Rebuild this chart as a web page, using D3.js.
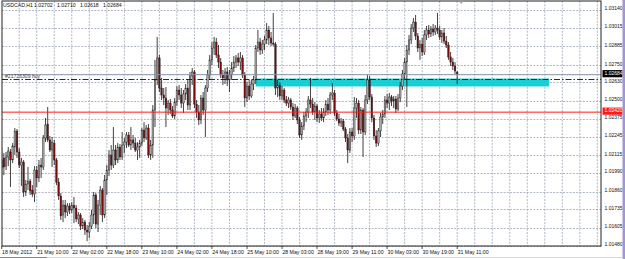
<!DOCTYPE html>
<html>
<head>
<meta charset="utf-8">
<script src="https://cdn.jsdelivr.net/npm/d3@7/dist/d3.min.js"></script>
<style>
html,body{margin:0;padding:0;background:#fff;}
svg{display:block;font-family:"Liberation Sans",Arial,sans-serif;}
</style>
</head>
<body>
<svg id="chart" width="625" height="259"></svg>
<script>
// USDCAD H1, 18 May 2012 18:00 .. 31 May 11:00
var symbol = "USDCAD,H1";
var lastQuote = [1.02702, 1.02710, 1.02618, 1.02684];

var opens = [1.02026,1.02097,1.02040,1.02104,1.02139,1.02083,1.02174,1.02287,1.02139,1.02047,
1.02068,1.01857,1.01913,1.01934,1.01871,1.01843,1.02012,1.01956,1.02047,1.02033,
1.02238,1.02336,1.02224,1.02153,1.02202,1.02083,1.01927,1.01829,1.01695,1.01765,
1.01716,1.01758,1.01730,1.01765,1.01744,1.01667,1.01695,1.01617,1.01645,1.01589,
1.01575,1.01617,1.01695,1.01836,1.01631,1.01765,1.01871,1.01695,1.01942,1.02012,
1.02118,1.02047,1.02153,1.02083,1.02174,1.02104,1.02188,1.02209,1.02259,1.02188,
1.02224,1.02202,1.02153,1.02174,1.02202,1.02294,1.02238,1.02308,1.02118,1.02188,
1.02435,1.02647,1.02802,1.02590,1.02541,1.02520,1.02449,1.02484,1.02435,1.02393,
1.02491,1.02576,1.02541,1.02484,1.02548,1.02590,1.02470,1.02675,1.02703,1.02477,
1.02421,1.02365,1.02520,1.02435,1.02590,1.02682,1.02788,1.02872,1.02914,1.02823,
1.02773,1.02682,1.02661,1.02703,1.02647,1.02682,1.02731,1.02773,1.02802,1.02773,
1.02802,1.02682,1.02520,1.02604,1.02534,1.02618,1.02647,1.02872,1.02914,1.02858,
1.02900,1.02929,1.02999,1.02943,1.02907,1.02900,1.02590,1.02611,1.02534,1.02576,
1.02506,1.02484,1.02506,1.02456,1.02393,1.02449,1.02365,1.02259,1.02322,1.02393,
1.02421,1.02506,1.02477,1.02421,1.02463,1.02379,1.02407,1.02379,1.02421,1.02477,
1.02435,1.02541,1.02555,1.02414,1.02372,1.02343,1.02357,1.02301,1.02238,1.02153,
1.02280,1.02252,1.02449,1.02484,1.02294,1.02435,1.02280,1.02506,1.02647,1.02527,
1.02379,1.02252,1.02202,1.02287,1.02386,1.02407,1.02506,1.02484,1.02527,1.02498,
1.02513,1.02442,1.02520,1.02604,1.02689,1.02773,1.02858,1.02929,1.03013,1.03055,
1.02957,1.02872,1.02900,1.02844,1.02964,1.02999,1.02971,1.03006,1.02985,1.03013,
1.02999,1.02950,1.02978,1.02921,1.02893,1.02809,1.02773,1.02745,1.02702];

var highs = [1.02167,1.02132,1.02139,1.02174,1.02160,1.02202,1.02308,1.02301,1.02167,1.02097,
1.02083,1.01942,1.02033,1.01949,1.01906,1.02040,1.02040,1.02083,1.02097,1.02259,
1.02379,1.02456,1.02252,1.02245,1.02224,1.02097,1.01956,1.01850,1.01801,1.01801,
1.01779,1.01779,1.01786,1.01822,1.01765,1.01716,1.01709,1.01674,1.01660,1.01624,
1.01645,1.01730,1.01857,1.01850,1.01801,1.01899,1.01885,1.01977,1.02047,1.02153,
1.02188,1.02315,1.02188,1.02202,1.02195,1.02280,1.02238,1.02280,1.02280,1.02315,
1.02259,1.02238,1.02209,1.02224,1.02308,1.02350,1.02329,1.02336,1.02224,1.02470,
1.02788,1.02950,1.02823,1.02661,1.02590,1.02597,1.02506,1.02513,1.02463,1.02520,
1.02604,1.02611,1.02590,1.02576,1.02618,1.02647,1.02703,1.02731,1.02717,1.02506,
1.02470,1.02541,1.02562,1.02611,1.02717,1.02823,1.02914,1.02950,1.02943,1.02893,
1.02802,1.02717,1.02731,1.02738,1.02717,1.02773,1.02816,1.02823,1.02837,1.02844,
1.02823,1.02703,1.02632,1.02647,1.02647,1.02675,1.02893,1.02999,1.02943,1.02929,
1.02957,1.03048,1.03027,1.02985,1.03119,1.02914,1.02647,1.02632,1.02604,1.02590,
1.02534,1.02527,1.02520,1.02484,1.02477,1.02463,1.02386,1.02350,1.02421,1.02449,
1.02534,1.02661,1.02520,1.02491,1.02477,1.02435,1.02449,1.02449,1.02506,1.02520,
1.02562,1.02625,1.02576,1.02435,1.02407,1.02379,1.02372,1.02315,1.02266,1.02308,
1.02308,1.02527,1.02520,1.02506,1.02456,1.02449,1.02541,1.02682,1.02675,1.02548,
1.02400,1.02294,1.02308,1.02414,1.02435,1.02534,1.02548,1.02555,1.02541,1.02534,
1.02534,1.02548,1.02632,1.02717,1.02802,1.02893,1.02964,1.03041,1.03084,1.03105,
1.02978,1.02929,1.02943,1.02999,1.03027,1.03034,1.03027,1.03041,1.03034,1.03119,
1.03027,1.02999,1.03013,1.02957,1.02914,1.02844,1.02802,1.02773,1.02710];

var lows = [1.01801,1.01977,1.02012,1.02040,1.01892,1.02061,1.02118,1.02097,1.02026,1.01899,
1.01822,1.01829,1.01871,1.01836,1.01822,1.01786,1.01892,1.01927,1.01956,1.02012,
1.02209,1.02209,1.02139,1.02033,1.02047,1.01906,1.01801,1.01660,1.01645,1.01674,
1.01688,1.01702,1.01709,1.01638,1.01645,1.01631,1.01589,1.01596,1.01554,1.01511,
1.01533,1.01596,1.01631,1.01603,1.01575,1.01695,1.01645,1.01674,1.01836,1.01970,
1.02012,1.02026,1.02047,1.02061,1.02083,1.02083,1.02132,1.02167,1.02174,1.02153,
1.02167,1.02139,1.02083,1.02097,1.02181,1.02209,1.02224,1.02097,1.02083,1.02097,
1.02315,1.02611,1.02562,1.02506,1.02470,1.02315,1.02400,1.02407,1.02379,1.02372,
1.02463,1.02506,1.02449,1.02414,1.02506,1.02435,1.02435,1.02611,1.02449,1.02379,
1.02329,1.02336,1.02400,1.02245,1.02562,1.02647,1.02752,1.02823,1.02802,1.02731,
1.02661,1.02611,1.02618,1.02604,1.02562,1.02647,1.02703,1.02731,1.02745,1.02717,
1.02661,1.02456,1.02491,1.02506,1.02520,1.02576,1.02618,1.02844,1.02823,1.02830,
1.02858,1.02900,1.02893,1.02886,1.02886,1.02541,1.02527,1.02506,1.02506,1.02484,
1.02463,1.02449,1.02435,1.02365,1.02379,1.02336,1.02238,1.02224,1.02294,1.02350,
1.02379,1.02449,1.02400,1.02365,1.02350,1.02343,1.02357,1.02350,1.02393,1.02400,
1.02407,1.02506,1.02393,1.02357,1.02322,1.02315,1.02287,1.02209,1.02061,1.02132,
1.02209,1.02224,1.02379,1.02266,1.02266,1.02104,1.02259,1.02477,1.02506,1.02350,
1.02224,1.02174,1.02181,1.02245,1.02336,1.02379,1.02449,1.02435,1.02463,1.02449,
1.02414,1.02428,1.02491,1.02576,1.02647,1.02456,1.02823,1.02900,1.02985,1.02929,
1.02844,1.02788,1.02816,1.02823,1.02929,1.02943,1.02950,1.02957,1.02964,1.02971,
1.02929,1.02907,1.02900,1.02872,1.02788,1.02745,1.02717,1.02689,1.02618];

var closes = [1.02083,1.02033,1.02104,1.02146,1.02083,1.02181,1.02287,1.02139,1.02047,1.02068,
1.01857,1.01913,1.01934,1.01864,1.01843,1.02012,1.01956,1.02047,1.02033,1.02238,
1.02329,1.02224,1.02153,1.02209,1.02083,1.01927,1.01829,1.01688,1.01765,1.01716,
1.01758,1.01730,1.01765,1.01744,1.01667,1.01695,1.01617,1.01645,1.01589,1.01575,
1.01617,1.01695,1.01836,1.01631,1.01765,1.01871,1.01695,1.01942,1.02012,1.02118,
1.02047,1.02153,1.02083,1.02174,1.02104,1.02188,1.02209,1.02259,1.02188,1.02224,
1.02202,1.02153,1.02174,1.02202,1.02294,1.02238,1.02308,1.02118,1.02188,1.02435,
1.02647,1.02802,1.02590,1.02541,1.02520,1.02449,1.02484,1.02435,1.02393,1.02491,
1.02576,1.02541,1.02484,1.02548,1.02590,1.02470,1.02675,1.02703,1.02477,1.02421,
1.02365,1.02520,1.02435,1.02590,1.02682,1.02788,1.02872,1.02914,1.02823,1.02773,
1.02682,1.02661,1.02703,1.02647,1.02682,1.02731,1.02773,1.02802,1.02773,1.02802,
1.02682,1.02520,1.02604,1.02534,1.02618,1.02647,1.02872,1.02914,1.02858,1.02900,
1.02929,1.02999,1.02943,1.02907,1.02900,1.02590,1.02611,1.02534,1.02576,1.02506,
1.02484,1.02506,1.02456,1.02393,1.02449,1.02365,1.02259,1.02322,1.02393,1.02421,
1.02506,1.02477,1.02421,1.02463,1.02379,1.02407,1.02379,1.02421,1.02477,1.02435,
1.02541,1.02555,1.02414,1.02372,1.02343,1.02357,1.02301,1.02238,1.02153,1.02280,
1.02252,1.02449,1.02484,1.02294,1.02435,1.02280,1.02506,1.02647,1.02527,1.02379,
1.02252,1.02202,1.02287,1.02386,1.02407,1.02506,1.02484,1.02527,1.02498,1.02513,
1.02442,1.02520,1.02604,1.02689,1.02773,1.02858,1.02929,1.03013,1.03055,1.02957,
1.02872,1.02900,1.02844,1.02964,1.02999,1.02971,1.03006,1.02985,1.03013,1.02999,
1.02950,1.02978,1.02921,1.02893,1.02809,1.02773,1.02745,1.02710,1.02684];

// one label every 16 bars
var timeLabels = ["18 May 2012","21 May 10:00","22 May 02:00","22 May 18:00","23 May 10:00",
"24 May 02:00","24 May 18:00","25 May 10:00","28 May 03:00","28 May 19:00",
"29 May 11:00","30 May 03:00","30 May 19:00","31 May 11:00"];
var priceTicks = [1.03140,1.03015,1.02885,1.02750,1.02630,1.02500,1.02375,1.02245,
1.02115,1.01990,1.01860,1.01735,1.01605,1.01480];

var bidPrice = 1.02684;
var alertPrice = 1.02420;
var orderPrice = 1.02650;
var orderLabel = "#21726309 buy";
var zoneBars = [116, 250];
var zonePrices = [1.02657, 1.02601];

var W = 625, H = 259;
var plot = {left: 2, right: 601, top: 1, bottom: 246};
var labelEvery = 16, gridEvery = 8;

var svg = d3.select("#chart");
var x = d3.scaleLinear().domain([0, closes.length - 1]).range([1.7, 457.2]);
var y = d3.scaleLinear().domain([1.01480, 1.03140]).range([245.5, 10]);
var fmt = d3.format(".5f");

svg.append("rect").attr("width", W).attr("height", H).attr("fill", "#fff");

var clip = svg.append("defs").append("clipPath").attr("id", "plotclip")
    .append("rect").attr("x", plot.left).attr("y", plot.top)
    .attr("width", plot.right - plot.left).attr("height", plot.bottom - plot.top);

// grid
var grid = svg.append("g").attr("stroke", "#9aa5b4").attr("stroke-width", 0.8)
    .attr("stroke-dasharray", "2,1.3");
grid.selectAll("line.h").data(priceTicks).enter().append("line")
    .attr("class", "h")
    .attr("x1", plot.left).attr("x2", plot.right)
    .attr("y1", function (d) { return Math.round(y(d)) + 0.5; })
    .attr("y2", function (d) { return Math.round(y(d)) + 0.5; });
var vBars = d3.range(gridEvery, 300, gridEvery).filter(function (b) { return x(b) < plot.right - 1; });
grid.selectAll("line.v").data(vBars).enter().append("line")
    .attr("class", "v")
    .attr("x1", function (d) { return x(d); }).attr("x2", function (d) { return x(d); })
    .attr("y1", plot.top).attr("y2", plot.bottom);

var g = svg.append("g").attr("clip-path", "url(#plotclip)");

// support zone rectangle
g.append("rect")
    .attr("x", x(zoneBars[0])).attr("width", x(zoneBars[1]) - x(zoneBars[0]))
    .attr("y", y(zonePrices[0])).attr("height", y(zonePrices[1]) - y(zonePrices[0]))
    .attr("fill", "#17cfd5");

// candles
var idx = d3.range(closes.length);
g.selectAll("line.wick").data(idx).enter().append("line")
    .attr("class", "wick")
    .attr("x1", function (i) { return x(i); }).attr("x2", function (i) { return x(i); })
    .attr("y1", function (i) { return y(highs[i]); })
    .attr("y2", function (i) { return y(lows[i]); })
    .attr("stroke", "#111").attr("stroke-width", 0.8);
g.selectAll("rect.body").data(idx).enter().append("rect")
    .attr("class", "body")
    .attr("x", function (i) { return x(i) - 0.8; })
    .attr("width", 1.6)
    .attr("y", function (i) { return y(Math.max(opens[i], closes[i])); })
    .attr("height", function (i) { return Math.max(0.7, Math.abs(y(opens[i]) - y(closes[i]))); })
    .attr("fill", function (i) { return closes[i] >= opens[i] ? "#a6a6a6" : "#7d0a0a"; })
    .attr("stroke", "#222").attr("stroke-width", 0.4);

// bid line, alert line, order line
g.append("line").attr("x1", plot.left).attr("x2", plot.right)
    .attr("y1", y(bidPrice)).attr("y2", y(bidPrice))
    .attr("stroke", "#8593a6").attr("stroke-width", 1);
g.append("line").attr("x1", plot.left).attr("x2", plot.right)
    .attr("y1", y(alertPrice)).attr("y2", y(alertPrice))
    .attr("stroke", "#ff1a1a").attr("stroke-width", 1);
g.append("line").attr("x1", plot.left).attr("x2", plot.right)
    .attr("y1", y(orderPrice)).attr("y2", y(orderPrice))
    .attr("stroke", "#111").attr("stroke-width", 0.9)
    .attr("stroke-dasharray", "6,2,1.5,2");
svg.append("text").attr("x", 5).attr("y", y(orderPrice) - 1.2)
    .attr("font-size", 5.1).attr("fill", "#3a3f48").text(orderLabel);

// frame
svg.append("rect").attr("x", plot.left).attr("y", plot.top)
    .attr("width", plot.right - plot.left).attr("height", plot.bottom - plot.top)
    .attr("fill", "none").attr("stroke", "#222").attr("stroke-width", 1);

// price axis labels
svg.selectAll("text.py").data(priceTicks).enter().append("text")
    .attr("class", "py")
    .attr("x", 604.5).attr("y", function (d) { return y(d) - 1; })
    .attr("dominant-baseline", "middle")
    .attr("font-size", 5).attr("fill", "#111")
    .text(function (d) { return fmt(d); });

function priceBox(v, bg) {
    var yy = y(v) - 1;
    svg.append("rect").attr("x", 602.5).attr("y", yy - 3.6).attr("width", 20).attr("height", 7.2)
        .attr("fill", bg);
    svg.append("text").attr("x", 604.5).attr("y", yy).attr("dominant-baseline", "middle")
        .attr("font-size", 5).attr("fill", "#fff").text(fmt(v));
}
priceBox(bidPrice, "#000");
priceBox(alertPrice, "#ff1a1a");

// time axis
var tickBars = timeLabels.map(function (t, k) { return k * labelEvery; });
svg.selectAll("line.tt").data(tickBars).enter().append("line")
    .attr("class", "tt")
    .attr("x1", function (b) { return x(b); }).attr("x2", function (b) { return x(b); })
    .attr("y1", plot.bottom).attr("y2", plot.bottom + 3)
    .attr("stroke", "#222").attr("stroke-width", 0.8);
svg.selectAll("text.tx").data(timeLabels).enter().append("text")
    .attr("class", "tx")
    .attr("x", function (t, k) { return x(tickBars[k]) + 0.4; })
    .attr("y", 253.5)
    .attr("font-size", 5.2).attr("fill", "#111")
    .text(function (t) { return t; });

// title with last bar OHLC
var title = svg.append("text").attr("y", 7).attr("font-size", 5.2).attr("fill", "#111");
var titleX = [3, 34, 57, 80, 103];
[symbol].concat(lastQuote.map(fmt)).forEach(function (s, k) {
    title.append("tspan").attr("x", titleX[k]).text(s);
});

// chart shift marker
var sx = x(closes.length - 1) + 4;
svg.append("path").attr("d", "M" + (sx - 2.5) + ",0.5L" + (sx + 2.5) + ",0.5L" + sx + ",4Z")
    .attr("fill", "#9a9a9a");

// window edges
svg.append("rect").attr("x", 622.5).attr("y", 0).attr("width", 2.5).attr("height", H).attr("fill", "#a195d2");
svg.append("line").attr("x1", 0).attr("x2", 622).attr("y1", 257.5).attr("y2", 257.5)
    .attr("stroke", "#d8d8d8");
svg.append("line").attr("x1", 0).attr("x2", 47).attr("y1", 257.5).attr("y2", 257.5)
    .attr("stroke", "#8a8a8a");
</script>
</body>
</html>
